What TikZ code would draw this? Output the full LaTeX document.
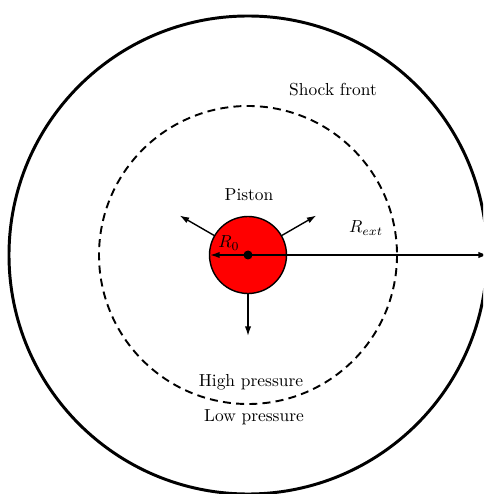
\documentclass[tikz,border=0pt]{standalone}
\usetikzlibrary{arrows.meta}
\begin{document}
\begin{tikzpicture}[x=0.5747pt,y=-0.5747pt,
  arr/.style={thick,-{Latex[length=5.5pt,width=3.6pt]}},
  lbl/.style={inner sep=0pt,anchor=center}]
\useasboundingbox (0,0) rectangle (483,494);
\clip (0,0) rectangle (483,494);
\coordinate (c) at (248,255);
% outer boundary
\draw[line width=1.7pt] (c) circle [radius=239];
% shock front
\draw[line width=1.1pt,dash pattern=on 4.6pt off 3pt] (c) circle [radius=149];
% piston
\draw[thick,fill=red] (c) circle [radius=38.5];
% radius arrows
\coordinate (r0) at (210,255);
\coordinate (rext) at (488,255);
\draw[arr] (c) -- (r0);
\draw[arr] (c) -- (rext);
\fill (c) circle [radius=4.5];
% expansion arrows
\draw[arr] ([shift={(-150:39)}]c) -- ([shift={(-150:79)}]c);
\draw[arr] ([shift={(-30:39)}]c) -- ([shift={(-30:79)}]c);
\draw[arr] ([shift={(90:39)}]c) -- ([shift={(90:81)}]c);
% labels
\node[lbl] (piston) at (249,195) {Piston};
\node[lbl] (shock) at (333,90) {Shock front};
\node[lbl] (high) at (251,382) {High pressure};
\node[lbl] (low) at (254,417) {Low pressure};
\node[lbl] (R0) at (229,243) {$R_0$};
\node[lbl] (Rext) at (366,228) {$R_{ext}$};
\end{tikzpicture}
\end{document}
